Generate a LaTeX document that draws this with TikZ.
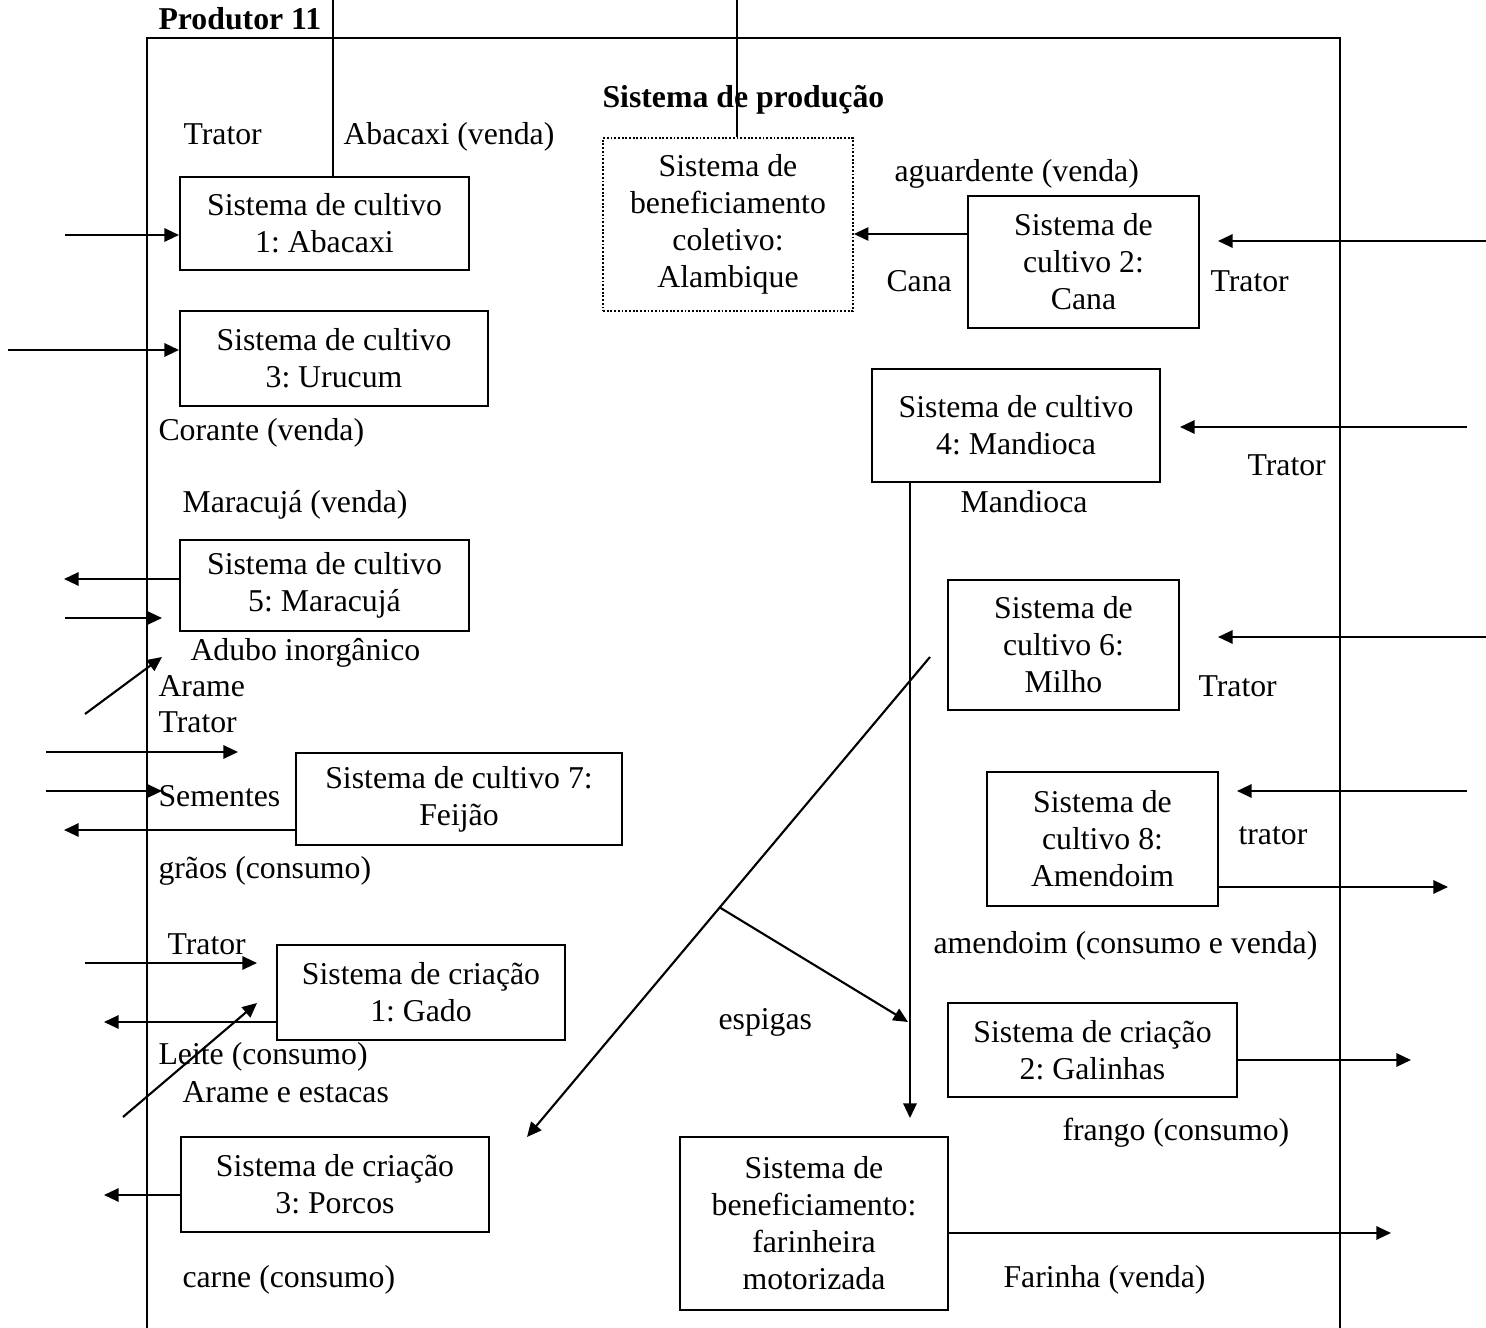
\documentclass[tikz,border=0pt]{standalone}
\usepackage{fontspec}
\setmainfont{Liberation Serif}
\usepackage{tikz}
\usetikzlibrary{arrows.meta, positioning, calc}
\frenchspacing
\tikzset{
  sisbox/.style={
    draw, line width=0.8pt, align=center, inner sep=2pt,
    font=\fontsize{12}{14}\selectfont
  },
  sisboxdotted/.style={
    sisbox, line width=0.7pt, dash pattern=on 0.7pt off 0.7pt
  },
  sisarrow/.style={
    -{Triangle[length=5.5pt,width=5pt]}, line width=0.8pt
  },
  sisline/.style={line width=0.8pt},
  sislabel/.style={
    anchor=base west, inner sep=0pt, font=\fontsize{12}{14}\selectfont
  },
  sistitle/.style={
    anchor=base west, inner sep=0pt, font=\fontsize{12}{14}\selectfont\bfseries
  },
}

\begin{document}
\begin{tikzpicture}[x=0.01327cm, y=-0.01327cm]
  \useasboundingbox (0,0) rectangle (1486,1328);

  % === Produtor (moldura) ===
  \draw[line width=1pt] (147,1328) -- (147,38) -- (1340,38) -- (1340,1328);
  \node[sistitle] (produtor) at (158,30) {Produtor 11};
  \node[sistitle] (sistema) at (602,108) {Sistema de produção};

  % === Sistemas, lado esquerdo ===
  \node[sisbox, minimum width=3.835cm, minimum height=1.234cm] (c1) at (324.5,223.5)
    {Sistema de cultivo\\1: Abacaxi};
  \node[sisbox, minimum width=4.087cm, minimum height=1.261cm] (c3) at (334,358.5)
    {Sistema de cultivo\\3: Urucum};
  \node[sisbox, minimum width=3.835cm, minimum height=1.208cm] (c5) at (324.5,585.5)
    {Sistema de cultivo\\5: Maracujá};
  \node[sisbox, minimum width=4.326cm, minimum height=1.221cm] (c7) at (459,799)
    {Sistema de cultivo 7:\\Feijão};
  \node[sisbox, minimum width=3.822cm, minimum height=1.261cm] (gado) at (421,992.5)
    {Sistema de criação\\1: Gado};
  \node[sisbox, minimum width=4.087cm, minimum height=1.261cm] (porcos) at (335,1184.5)
    {Sistema de criação\\3: Porcos};

  % === Sistemas, centro e lado direito ===
  \node[sisboxdotted, minimum width=3.318cm, minimum height=2.296cm] (alamb) at (728,224.5)
    {Sistema de\\beneficiamento\\coletivo:\\Alambique};
  \node[sisbox, minimum width=3.065cm, minimum height=1.752cm] (c2) at (1083.5,262)
    {Sistema de\\cultivo 2:\\Cana};
  \node[sisbox, minimum width=3.822cm, minimum height=1.5cm] (c4) at (1016,425.5)
    {Sistema de cultivo\\4: Mandioca};
  \node[sisbox, minimum width=3.065cm, minimum height=1.725cm] (c6) at (1063.5,645)
    {Sistema de\\cultivo 6:\\Milho};
  \node[sisbox, minimum width=3.065cm, minimum height=1.778cm] (c8) at (1102.5,839)
    {Sistema de\\cultivo 8:\\Amendoim};
  \node[sisbox, minimum width=3.835cm, minimum height=1.247cm] (galinhas) at (1092.5,1050)
    {Sistema de criação\\2: Galinhas};
  \node[sisbox, minimum width=3.556cm, minimum height=2.296cm] (farinha) at (814,1223.5)
    {Sistema de\\beneficiamento:\\farinheira\\motorizada};

  % === Rotulos ===
  \node[sislabel] (lTrator1) at (183,145) {Trator};
  \node[sislabel] (lAbacaxi) at (343,145) {Abacaxi (venda)};
  \node[sislabel] (lAguard) at (894,182) {aguardente (venda)};
  \node[sislabel] (lCana) at (886,292) {Cana};
  \node[sislabel] (lTrator2) at (1210,292) {Trator};
  \node[sislabel] (lCorante) at (158,441) {Corante (venda)};
  \node[sislabel] (lTrator4) at (1247,476) {Trator};
  \node[sislabel] (lMandioca) at (960,513) {Mandioca};
  \node[sislabel] (lMaracuja) at (182,513) {Maracujá (venda)};
  \node[sislabel] (lAdubo) at (190,661) {Adubo inorgânico};
  \node[sislabel] (lArame) at (158,697) {Arame};
  \node[sislabel] (lTrator5) at (158,733) {Trator};
  \node[sislabel] (lSementes) at (158,807) {Sementes};
  \node[sislabel] (lGraos) at (158,879) {grãos (consumo)};
  \node[sislabel] (lTrator6) at (1198,697) {Trator};
  \node[sislabel] (lTrator8) at (1238,845) {trator};
  \node[sislabel] (lAmendoim) at (933,954) {amendoim (consumo e venda)};
  \node[sislabel] (lTratorG) at (167,955) {Trator};
  \node[sislabel] (lLeite) at (158,1065) {Leite (consumo)};
  \node[sislabel] (lEstacas) at (182,1102) {Arame e estacas};
  \node[sislabel] (lEspigas) at (718,1030) {espigas};
  \node[sislabel] (lFrango) at (1062,1140) {frango (consumo)};
  \node[sislabel] (lCarne) at (182,1287) {carne (consumo)};
  \node[sislabel] (lFarinha) at (1003,1287) {Farinha (venda)};

  % === Linhas de saida pelo topo ===
  \coordinate (topo1) at (333,0);
  \coordinate (topo2) at (737,0);
  \draw[sisline] (topo1) -- (topo1 |- c1.north);
  \draw[sisline] (topo2) -- (topo2 |- alamb.north);

  % === Fluxos, lado esquerdo ===
  \coordinate (in1) at (65,235);
  \draw[sisarrow] (in1) -- (in1 -| c1.west);
  \coordinate (in3) at (8,350);
  \draw[sisarrow] (in3) -- (in3 -| c3.west);
  \draw[sisarrow] (c5.west |- 0,579) -- ++(-115,0);
  \coordinate (adubo) at (65,618);
  \draw[sisarrow] (adubo) -- ++(97,0);
  \coordinate (arame) at (85,714);
  \draw[sisarrow] (arame) -- ++(77,-57);
  \coordinate (trator5) at (46,752);
  \draw[sisarrow] (trator5) -- ++(192,0);
  \coordinate (sementes) at (46,791);
  \draw[sisarrow] (sementes) -- ++(116,0);
  \draw[sisarrow] (c7.west |- 0,830) -- ++(-231,0);
  \coordinate (tratorG) at (85,963);
  \draw[sisarrow] (tratorG) -- ++(172,0);
  \draw[sisarrow] (gado.west |- 0,1022) -- ++(-172,0);
  \coordinate (estacas) at (123,1117);
  \draw[sisarrow] (estacas) -- ++(134,-114);
  \draw[sisarrow] (porcos.west |- 0,1195) -- ++(-76,0);

  % === Fluxos, lado direito ===
  \draw[sisarrow] (c2.west |- 0,234) -- (alamb.east |- 0,234);
  \coordinate (trator2) at (1486,241);
  \draw[sisarrow] (trator2) -- ++(-268,0);
  \coordinate (trator4) at (1467,427);
  \draw[sisarrow] (trator4) -- ++(-287,0);
  \coordinate (trator6) at (1486,637);
  \draw[sisarrow] (trator6) -- ++(-268,0);
  \coordinate (trator8) at (1467,791);
  \draw[sisarrow] (trator8) -- ++(-230,0);
  \draw[sisarrow] (c8.east |- 0,887) -- ++(229,0);
  \draw[sisarrow] (galinhas.east |- 0,1060) -- ++(173,0);
  \draw[sisarrow] (farinha.east |- 0,1233) -- ++(442,0);

  % === Mandioca e milho ===
  \draw[sisarrow] (c4.south -| 910,0) -- ++(0,635);
  \coordinate (milho) at (930,657);
  \coordinate (espiga) at (719,907);
  \draw[sisarrow] (milho) -- ++(-403,480);
  \draw[sisarrow] (espiga) -- ++(189,115);

\end{tikzpicture}
\end{document}
